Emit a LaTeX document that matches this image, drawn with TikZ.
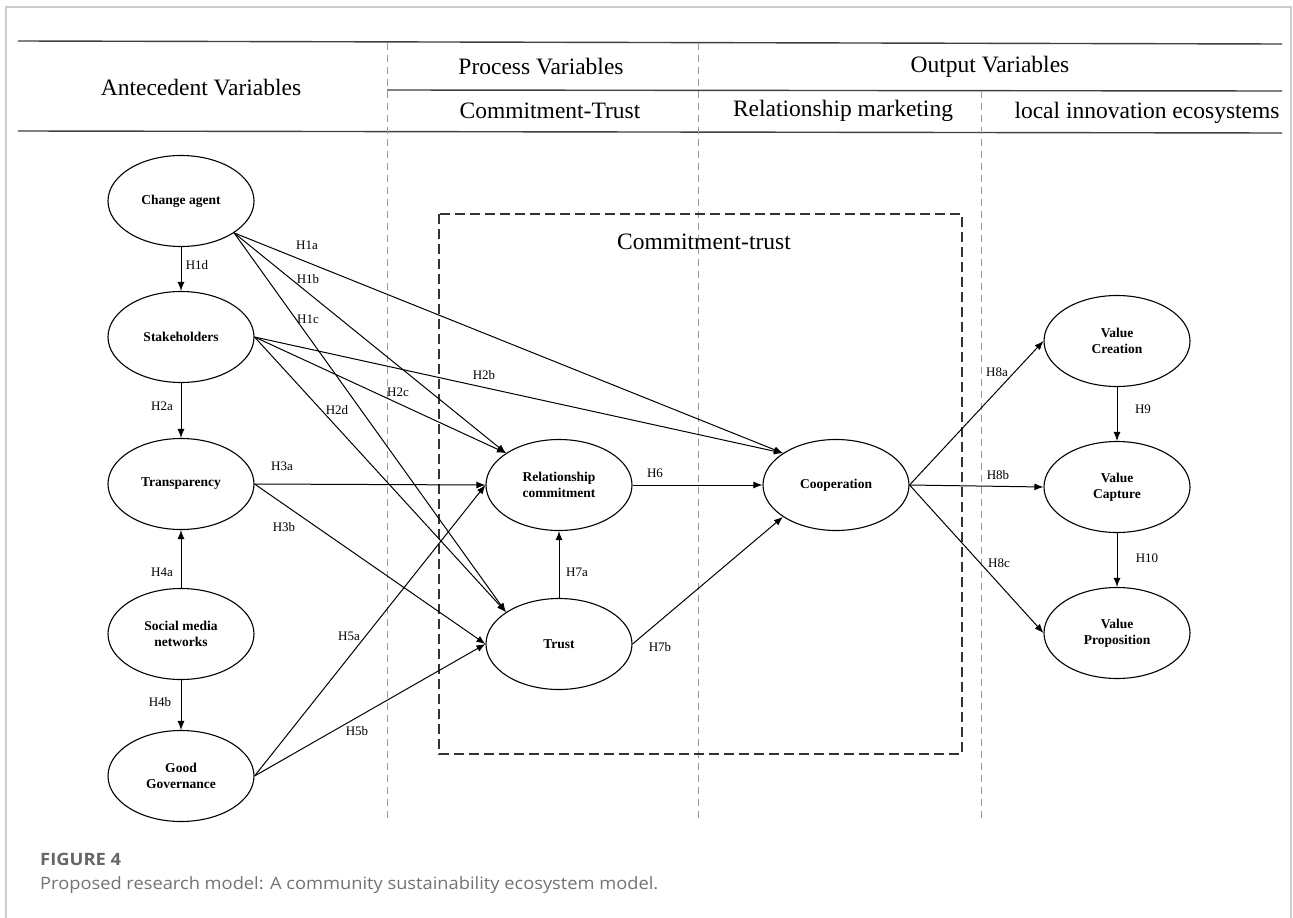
\documentclass[tikz,border=0pt]{standalone}
\usepackage{fontspec}
\setmainfont{Liberation Serif}
\newfontfamily\capfont{Open Sans}
\usetikzlibrary{shapes.geometric,arrows.meta}
\begin{document}
\begin{tikzpicture}[x=1pt,y=-1pt,
  ell/.style={ellipse, draw, line width=1.1pt, minimum width=146pt, minimum height=91pt, inner sep=0pt, align=center, font=\fontsize{13.5}{16}\selectfont\bfseries},
  arr/.style={-{Latex[length=9pt,width=7pt]}, line width=1pt},
  lab/.style={font=\fontsize{13}{15}\selectfont, inner sep=0pt},
  hdr/.style={font=\fontsize{23.5}{26}\selectfont, inner sep=0pt},
  hrule/.style={draw=black!75, line width=1.4pt},
  gdash/.style={draw=black!40, line width=1pt, dash pattern=on 7pt off 5pt},
  bdash/.style={draw=black!80, line width=1.3pt, dash pattern=on 10pt off 5pt},
]
\useasboundingbox (0,0) rectangle (1293,918);
\fill[white] (0,0) rectangle (1293,918);
\draw[black!20, line width=1.2pt] (6,918) -- (6,7) -- (1291,7) -- (1291,918);

% header
\draw[hrule] (18,41) -- (1282,44);
\draw[hrule] (387,90) -- (1282,91);
\draw[hrule] (18,131) -- (1282,133);
\draw[gdash] (387,43) -- (387,820);
\draw[gdash] (698,43) -- (698,820);
\draw[gdash] (981,91) -- (981,820);

\node[hdr] (hant) at (201,88) {Antecedent Variables};
\node[hdr] (hproc) at (541,67) {Process Variables};
\node[hdr] (hout) at (990,67) {Output Variables};
\node[hdr] (hct) at (550,111) {Commitment-Trust};
\node[hdr] (hrm) at (843,111) {Relationship marketing};
\node[hdr] (hlie) at (1147,113) {local innovation ecosystems};

% dashed box
\draw[bdash] (439,214) rectangle (962,754);
\node[hdr] (boxt) at (704,242) {Commitment-trust};

% nodes
\node[ell] (ca) at (181,201) {Change agent};
\node[ell] (sh) at (181,337) {Stakeholders};
\node[ell] (tr) at (181,484) {Transparency};
\node[ell] (sm) at (181,634) {Social media\\networks};
\node[ell] (gg) at (181,776) {Good\\Governance};
\node[ell] (rc) at (559,485) {Relationship\\commitment};
\node[ell] (tru) at (559,644) {Trust};
\node[ell] (co) at (836,485) {Cooperation};
\node[ell] (vcr) at (1117,341) {Value\\Creation};
\node[ell] (vca) at (1117,487) {Value\\Capture};
\node[ell] (vp) at (1117,633) {Value\\Proposition};

% arrows
\draw[arr] (ca) -- (sh);
\draw[arr] (sh) -- (tr);
\draw[arr] (sm) -- (tr);
\draw[arr] (sm) -- (gg);
\draw[arr] (ca.-31) -- (co.149);
\draw[arr] (ca.-31) -- (rc.149);
\draw[arr] (ca.-31) -- (tru.149);
\draw[arr] (sh.east) -- (co.149);
\draw[arr] (sh.east) -- (rc.149);
\draw[arr] (sh.east) -- (tru.149);
\draw[arr] (tr.east) -- (rc.west);
\draw[arr] (tr.east) -- (tru.west);
\draw[arr] (gg.east) -- (rc.west);
\draw[arr] (gg.east) -- (tru.west);
\draw[arr] (rc) -- (co);
\draw[arr] (tru) -- (rc);
\draw[arr] (tru.east) -- (co.211);
\draw[arr] (co.east) -- (vcr.west);
\draw[arr] (co.east) -- (vca.west);
\draw[arr] (co.east) -- (vp.west);
\draw[arr] (vcr) -- (vca);
\draw[arr] (vca) -- (vp);

% labels
\node[lab] (l1a) at (307,245) {H1a};
\node[lab] (l1b) at (308,279) {H1b};
\node[lab] (l1c) at (308,319) {H1c};
\node[lab] (l1d) at (197,265) {H1d};
\node[lab] (l2a) at (162,406) {H2a};
\node[lab] (l2b) at (484,375) {H2b};
\node[lab] (l2c) at (398,392) {H2c};
\node[lab] (l2d) at (337,410) {H2d};
\node[lab] (l3a) at (282,466) {H3a};
\node[lab] (l3b) at (284,527) {H3b};
\node[lab] (l4a) at (162,572) {H4a};
\node[lab] (l4b) at (160,702) {H4b};
\node[lab] (l5a) at (349,636) {H5a};
\node[lab] (l5b) at (357,731) {H5b};
\node[lab] (l6) at (655,473) {H6};
\node[lab] (l7a) at (577,572) {H7a};
\node[lab] (l7b) at (660,647) {H7b};
\node[lab] (l8a) at (997,372) {H8a};
\node[lab] (l8b) at (998,475) {H8b};
\node[lab] (l8c) at (999,563) {H8c};
\node[lab] (l9) at (1143,409) {H9};
\node[lab] (l10) at (1147,558) {H10};

% caption
\node[anchor=base west, inner sep=0pt, xscale=1.08, text=black!60, font=\capfont\bfseries\fontsize{17}{20}\selectfont] (fig) at (40,865) {FIGURE 4};
\node[anchor=base west, inner sep=0pt, xscale=1.075, text=black!55, font=\capfont\fontsize{17}{20}\selectfont] (cap) at (40,889) {Proposed research model: A community sustainability ecosystem model.};
\end{tikzpicture}
\end{document}
